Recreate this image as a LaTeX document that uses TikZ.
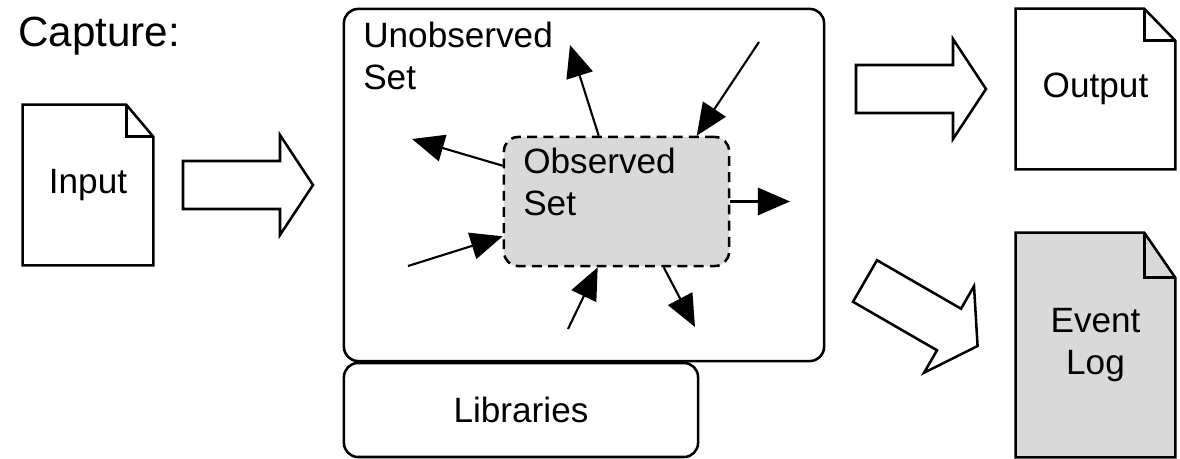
\documentclass[tikz,border=0pt]{standalone}
\usepackage{fontspec}
\setmainfont{Liberation Sans}
\usepackage{tikz}
\usetikzlibrary{arrows.meta,positioning,calc,backgrounds}
\definecolor{setgray}{gray}{0.85}
\tikzset{
  setbox/.style={rectangle, rounded corners=10pt, line width=1.8pt, inner sep=0pt},
  page/.style={rectangle, inner sep=0pt, minimum width=3.25cm, minimum height=4cm, align=center},
  lbl/.style={inner sep=0pt, align=left},
  flow/.style={-{Triangle[length=0.8cm, width=0.68cm]}, line width=1.5pt},
  fatarrow/.pic={
    \draw[line width=1.8pt, fill=white, line join=miter]
      (0,-24) -- (97,-24) -- (97,-50) -- (130,0) -- (97,50) -- (97,24) -- (0,24) -- cycle;
  },
}

\begin{document}
\begin{tikzpicture}[x=0.025cm, y=-0.025cm, font=\fontsize{25pt}{29.5pt}\selectfont]
\useasboundingbox (0,0) rectangle (1180,459);

\node[anchor=base west, inner sep=0pt, font=\fontsize{30pt}{36pt}\selectfont] (title) at (18,47) {Capture:};

% documents
\node[page] (input) at (88,185) {Input};
\node[page, minimum width=3.975cm] (output) at (1095.5,89) {Output};
\node[page, minimum width=3.975cm, minimum height=5.6cm] (evlog) at (1095.5,345) {Event\\Log};
\begin{scope}[on background layer]
\foreach \d/\c/\fx/\fy in {input/white/27/32, output/white/31/32, evlog/setgray/31/45} {
  \draw[line width=1.8pt, fill=\c, line join=miter]
    (\d.south west) -- (\d.north west) -- ($(\d.north east)+(-\fx,0)$)
    -- ($(\d.north east)+(0,\fy)$) -- (\d.south east) -- cycle;
  \draw[line width=1.8pt] ($(\d.north east)+(-\fx,0)$) |- ($(\d.north east)+(0,\fy)$);
}
\end{scope}

% program boxes
\node[setbox, draw, minimum width=12cm, minimum height=8.8cm] (unobs) at (584,185) {};
\node[setbox, draw, minimum width=8.85cm, minimum height=2.35cm] (libs) at (521,410) {Libraries};
\node[setbox, draw, fill=setgray, dashed, dash pattern=on 7pt off 4.5pt,
      minimum width=5.625cm, minimum height=3.225cm] (obs) at (616.5,201.5) {};
\node[lbl, anchor=north west] (unobslbl) at (363,22) {Unobserved\\Set};
\node[lbl, anchor=north west] (obslbl) at (523,148) {Observed\\Set};

% big arrows
\pic at (183,185) {fatarrow};
\pic at (856,89) {fatarrow};
\pic[rotate=-30] at (865,281) {fatarrow};

% flows in and out of the observed set
\coordinate (t1) at (570,45);
\coordinate (s2) at (759,42);
\coordinate (t3) at (412,139);
\coordinate (s4) at (408,266);
\coordinate (t5) at (790,201.5);
\coordinate (s6) at (568,329);
\coordinate (t7) at (695,327);
\draw[flow] ($(obs.north west)+(96,0)$) -- (t1);
\draw[flow] (s2) -- ($(obs.north west)+(194,0)$);
\draw[flow] ($(obs.north west)+(0,30)$) -- (t3);
\draw[flow] (s4) -- ($(obs.south west)+(0,-31)$);
\draw[flow] (obs.east) -- (t5);
\draw[flow] (s6) -- ($(obs.south west)+(95,0)$);
\draw[flow] ($(obs.south west)+(161,0)$) -- (t7);
\end{tikzpicture}
\end{document}
